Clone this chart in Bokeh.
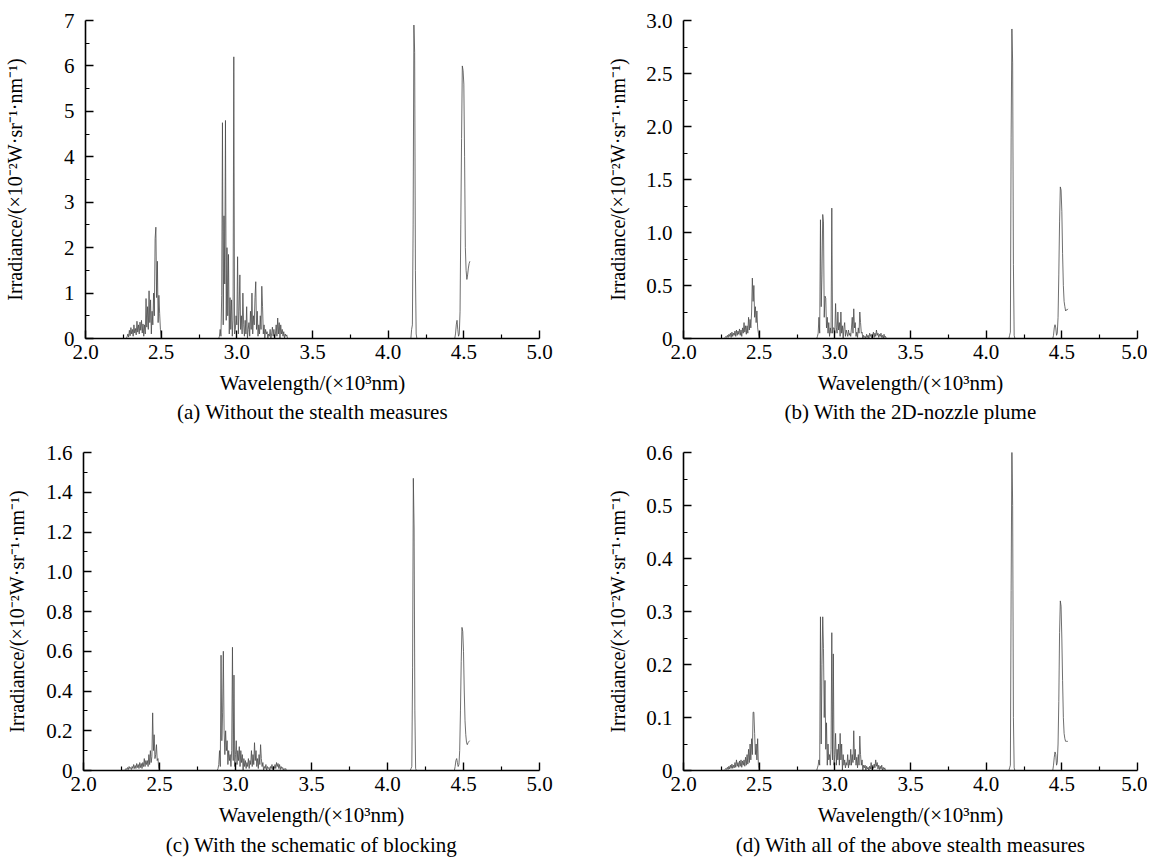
from bokeh.plotting import figure
from bokeh.models import Range1d, FixedTicker
from bokeh.layouts import column, row
from bokeh.embed import file_html
from bokeh.resources import INLINE

FONT = "Liberation Serif"

# ---- shared wavelength grids (x 10^3 nm) ----
B1_X = [2.270, 2.275, 2.280, 2.285, 2.290, 2.295, 2.300, 2.305, 2.310, 2.315,
        2.320, 2.325, 2.330, 2.335, 2.340, 2.345, 2.350, 2.355, 2.360, 2.365,
        2.370, 2.375, 2.380, 2.385, 2.390, 2.395, 2.400, 2.405, 2.410, 2.415,
        2.420, 2.425, 2.430, 2.435, 2.440, 2.445, 2.450, 2.455, 2.460, 2.465,
        2.470, 2.475, 2.480, 2.485, 2.490, 2.495, 2.500]
B2_X = [2.880, 2.885, 2.890, 2.895, 2.900, 2.905, 2.910, 2.915, 2.920, 2.925,
        2.930, 2.935, 2.940, 2.945, 2.950, 2.955, 2.960, 2.965, 2.970, 2.975,
        2.980, 2.985, 2.990, 2.995, 3.000, 3.005, 3.010, 3.015, 3.020, 3.025,
        3.030, 3.035, 3.040, 3.045, 3.050, 3.055, 3.060, 3.065, 3.070, 3.075,
        3.080, 3.085, 3.090, 3.095, 3.100, 3.105, 3.110, 3.115, 3.120, 3.125,
        3.130, 3.135, 3.140, 3.145, 3.150, 3.155, 3.160, 3.165, 3.170, 3.175,
        3.180, 3.185, 3.190, 3.195, 3.200, 3.205, 3.210, 3.215, 3.220, 3.225,
        3.230, 3.235, 3.240, 3.245, 3.250, 3.255, 3.260, 3.265, 3.270, 3.275,
        3.280, 3.285, 3.290, 3.295, 3.300, 3.305, 3.310, 3.315, 3.320, 3.325,
        3.330, 3.335, 3.340]
B3_X = [4.150, 4.155, 4.160, 4.165, 4.170, 4.175, 4.180, 4.185, 4.190]
B4_X = [4.440, 4.445, 4.450, 4.455, 4.460, 4.465, 4.470, 4.475, 4.480, 4.485,
        4.490, 4.495, 4.500, 4.505, 4.510, 4.515, 4.520, 4.525, 4.530, 4.535, 4.540]

# ---- (a) Without the stealth measures ----
A_B1 = [0, 0.04, 0.1, 0.03, 0.18, 0.06, 0.24, 0.1, 0.2, 0.05,
        0.3, 0.12, 0.22, 0.08, 0.38, 0.14, 0.3, 0.1, 0.36, 0.18,
        0.4, 0.12, 0.32, 0.05, 0.3, 0.1, 0.88, 0.25, 0.7, 0.2,
        1.05, 0.35, 0.85, 0.1, 0.6, 0.3, 1.0, 0.5, 2.2, 2.45,
        0.9, 1.7, 0.35, 0.95, 0.55, 0.2, 0.0]
A_B2 = [0, 0.05, 0.2, 0.05, 0.95, 4.75, 0.3, 2.7, 1.2, 4.8,
        0.4, 2.0, 0.5, 1.85, 0.1, 0.9, 0.2, 0.85, 0.05, 0.4,
        6.2, 0.1, 0.2, 0.5, 0.3, 1.8, 0.1, 0.6, 1.4, 0.2,
        0.5, 0.1, 1.0, 0.3, 0.05, 0.4, 0.1, 0.7, 0.0, 0.2,
        0.35, 0.05, 0.6, 0.2, 1.0, 0.1, 0.5, 0.3, 0.9, 1.25,
        0.2, 0.6, 0.05, 0.3, 0.1, 0.5, 0.2, 1.15, 0.7, 0.1,
        0.3, 0.0, 0.2, 0.1, 0.15, 0.0, 0.1, 0.05, 0.2, 0.0,
        0.1, 0.25, 0.05, 0.2, 0.0, 0.1, 0.3, 0.05, 0.45, 0.1,
        0.35, 0.0, 0.3, 0.1, 0.2, 0.05, 0.15, 0.0, 0.1, 0.05,
        0.08, 0.0, 0.0]
A_B3 = [0, 0.2, 0.3, 2.5, 6.9, 6.3, 1.5, 0.1, 0]
A_B4 = [0, 0.1, 0.3, 0.4, 0.2, 0.05, 0.1, 0.6, 2.5, 4.4,
        6.0, 5.9, 5.6, 4.0, 2.0, 1.5, 1.3, 1.4, 1.55, 1.65, 1.7]

# ---- (b) With the 2D-nozzle plume ----
B_B1 = [0, 0.01, 0.02, 0.01, 0.03, 0.01, 0.04, 0.02, 0.05, 0.01,
        0.06, 0.02, 0.05, 0.03, 0.07, 0.02, 0.08, 0.03, 0.07, 0.04,
        0.09, 0.03, 0.08, 0.02, 0.1, 0.05, 0.15, 0.06, 0.12, 0.04,
        0.12, 0.05, 0.2, 0.08, 0.18, 0.1, 0.25, 0.57, 0.35, 0.5,
        0.2, 0.3, 0.15, 0.26, 0.1, 0.05, 0.0]
B_B2 = [0, 0.02, 0.05, 0.2, 0.05, 1.12, 0.3, 0.6, 1.17, 1.1,
        0.2, 0.4, 0.38, 0.1, 0.2, 0.05, 0.15, 0.02, 0.1, 0.05,
        1.23, 0.05, 0.1, 0.1, 0.05, 0.33, 0.1, 0.05, 0.25, 0.08,
        0.15, 0.02, 0.25, 0.05, 0.12, 0.0, 0.1, 0.15, 0.02, 0.08,
        0.05, 0.02, 0.08, 0.03, 0.05, 0.02, 0.1, 0.2, 0.05, 0.28,
        0.1, 0.15, 0.02, 0.06, 0.01, 0.1, 0.05, 0.25, 0.15, 0.05,
        0.06, 0.0, 0.03, 0.01, 0.02, 0.0, 0.04, 0.01, 0.03, 0.0,
        0.05, 0.02, 0.04, 0.0, 0.03, 0.06, 0.01, 0.05, 0.02, 0.08,
        0.03, 0.05, 0.01, 0.04, 0.02, 0.05, 0.01, 0.03, 0.0, 0.04,
        0.01, 0.02, 0.0]
B_B3 = [0, 0.03, 0.06, 1.9, 2.92, 2.6, 0.7, 0.03, 0]
B_B4 = [0, 0.03, 0.1, 0.13, 0.1, 0.03, 0.05, 0.2, 0.6, 1.1,
        1.43, 1.4, 1.2, 0.8, 0.5, 0.35, 0.3, 0.26, 0.27, 0.27, 0.28]

# ---- (c) With the schematic of blocking ----
C_B1 = [0, 0.005, 0.01, 0.005, 0.015, 0.005, 0.02, 0.01, 0.015, 0.005,
        0.02, 0.01, 0.03, 0.01, 0.025, 0.01, 0.035, 0.015, 0.03, 0.01,
        0.04, 0.015, 0.035, 0.01, 0.04, 0.02, 0.06, 0.02, 0.05, 0.03,
        0.05, 0.02, 0.08, 0.03, 0.1, 0.04, 0.07, 0.29, 0.1, 0.18,
        0.06, 0.08, 0.13, 0.05, 0.06, 0.01, 0.0]
C_B2 = [0, 0.01, 0.03, 0.1, 0.02, 0.58, 0.15, 0.29, 0.6, 0.2,
        0.08, 0.2, 0.1, 0.15, 0.03, 0.1, 0.05, 0.08, 0.02, 0.1,
        0.62, 0.05, 0.48, 0.02, 0.08, 0.15, 0.03, 0.1, 0.05, 0.12,
        0.02, 0.1, 0.04, 0.08, 0.0, 0.06, 0.02, 0.05, 0.01, 0.04,
        0.02, 0.06, 0.01, 0.05, 0.03, 0.1, 0.02, 0.08, 0.03, 0.14,
        0.05, 0.1, 0.02, 0.06, 0.01, 0.08, 0.03, 0.13, 0.06, 0.02,
        0.04, 0.0, 0.02, 0.01, 0.03, 0.0, 0.02, 0.01, 0.015, 0.0,
        0.02, 0.01, 0.03, 0.005, 0.02, 0.01, 0.03, 0.01, 0.04, 0.02,
        0.035, 0.01, 0.03, 0.005, 0.02, 0.01, 0.015, 0.0, 0.01, 0.005,
        0.01, 0.0, 0.0]
C_B3 = [0, 0.01, 0.02, 0.52, 1.47, 1.22, 0.3, 0.01, 0]
C_B4 = [0, 0.02, 0.05, 0.06, 0.04, 0.02, 0.03, 0.1, 0.3, 0.55,
        0.72, 0.7, 0.6, 0.4, 0.25, 0.18, 0.14, 0.13, 0.14, 0.145, 0.15]

# ---- (d) With all of the above stealth measures ----
D_B1 = [0, 0.002, 0.004, 0.002, 0.006, 0.002, 0.008, 0.003, 0.01, 0.004,
        0.012, 0.004, 0.01, 0.005, 0.015, 0.006, 0.02, 0.008, 0.015, 0.006,
        0.018, 0.008, 0.02, 0.006, 0.018, 0.01, 0.02, 0.008, 0.025, 0.01,
        0.03, 0.012, 0.04, 0.015, 0.05, 0.02, 0.06, 0.03, 0.11, 0.11,
        0.07, 0.03, 0.05, 0.02, 0.06, 0.01, 0.0]
D_B2 = [0, 0.005, 0.01, 0.02, 0.01, 0.29, 0.05, 0.2, 0.29, 0.23,
        0.1, 0.17, 0.04, 0.09, 0.01, 0.05, 0.02, 0.03, 0.01, 0.04,
        0.26, 0.02, 0.22, 0.01, 0.03, 0.07, 0.01, 0.04, 0.02, 0.05,
        0.01, 0.07, 0.02, 0.05, 0.0, 0.03, 0.01, 0.02, 0.005, 0.015,
        0.01, 0.03, 0.005, 0.02, 0.01, 0.04, 0.01, 0.03, 0.015, 0.075,
        0.02, 0.04, 0.01, 0.025, 0.005, 0.03, 0.01, 0.065, 0.03, 0.01,
        0.02, 0.0, 0.01, 0.005, 0.01, 0.0, 0.008, 0.003, 0.006, 0.0,
        0.008, 0.003, 0.015, 0.002, 0.01, 0.004, 0.012, 0.005, 0.02, 0.008,
        0.015, 0.003, 0.01, 0.002, 0.008, 0.003, 0.01, 0.0, 0.006, 0.002,
        0.005, 0.0, 0.0]
D_B3 = [0, 0.005, 0.01, 0.34, 0.61, 0.5, 0.1, 0.005, 0]
D_B4 = [0, 0.01, 0.025, 0.035, 0.03, 0.01, 0.015, 0.05, 0.13, 0.26,
        0.32, 0.31, 0.25, 0.17, 0.1, 0.07, 0.06, 0.055, 0.055, 0.055, 0.055]

# ---- ticks ----
X_MAJOR = [2.0, 2.5, 3.0, 3.5, 4.0, 4.5, 5.0]
X_MINOR = [2.25, 2.75, 3.25, 3.75, 4.25, 4.75]
X_LABELS = ["2.0", "2.5", "3.0", "3.5", "4.0", "4.5", "5.0"]

A_YMAJOR = [0, 1, 2, 3, 4, 5, 6, 7]
A_YMINOR = [0.5, 1.5, 2.5, 3.5, 4.5, 5.5, 6.5]
A_YLABELS = ["0", "1", "2", "3", "4", "5", "6", "7"]
B_YMAJOR = [0, 0.5, 1.0, 1.5, 2.0, 2.5, 3.0]
B_YMINOR = [0.25, 0.75, 1.25, 1.75, 2.25, 2.75]
B_YLABELS = ["0", "0.5", "1.0", "1.5", "2.0", "2.5", "3.0"]
C_YMAJOR = [0, 0.2, 0.4, 0.6, 0.8, 1.0, 1.2, 1.4, 1.6]
C_YMINOR = [0.1, 0.3, 0.5, 0.7, 0.9, 1.1, 1.3, 1.5]
C_YLABELS = ["0", "0.2", "0.4", "0.6", "0.8", "1.0", "1.2", "1.4", "1.6"]
D_YMAJOR = [0, 0.1, 0.2, 0.3, 0.4, 0.5, 0.6]
D_YMINOR = [0.05, 0.15, 0.25, 0.35, 0.45, 0.55]
D_YLABELS = ["0", "0.1", "0.2", "0.3", "0.4", "0.5", "0.6"]

XLABEL = "Wavelength/(\u00d710\u00b3nm)"
YLABEL = "Irradiance/(\u00d710\u207b\u00b2W\u00b7sr\u207b\u00b9\u00b7nm\u207b\u00b9)"

CAPTIONS = ["(a) Without the stealth measures",
            "(b) With the 2D-nozzle plume",
            "(c) With the schematic of blocking",
            "(d) With all of the above stealth measures"]


def make_panel(bands, ymax, ymajor, yminor, ylabels, caption, width, height,
               left, right, top, bottom, ylabel_standoff, title_standoff):
    p = figure(width=width, height=height, output_backend="svg",
               toolbar_location=None,
               x_range=Range1d(2.0, 5.0), y_range=Range1d(0, ymax),
               min_border_left=left, min_border_right=right,
               min_border_top=top, min_border_bottom=bottom,
               title=caption, title_location="below")
    p.outline_line_color = None
    p.xgrid.visible = False
    p.ygrid.visible = False
    p.background_fill_color = "white"
    p.border_fill_color = "white"

    p.title.align = "center"
    p.title.text_font = FONT
    p.title.text_font_size = "21px"
    p.title.text_font_style = "normal"
    p.title.text_color = "black"
    p.title.standoff = title_standoff

    for ax in (p.xaxis[0], p.yaxis[0]):
        ax.axis_line_color = "black"
        ax.axis_line_width = 1.6
        ax.major_tick_line_color = "black"
        ax.major_tick_line_width = 1.4
        ax.minor_tick_line_color = "black"
        ax.minor_tick_line_width = 1.2
        ax.major_tick_in = 8
        ax.major_tick_out = 0
        ax.minor_tick_in = 4
        ax.minor_tick_out = 0
        ax.major_label_text_font = FONT
        ax.major_label_text_font_size = "21px"
        ax.major_label_text_color = "black"
        ax.axis_label_text_font = FONT
        ax.axis_label_text_font_style = "normal"
        ax.axis_label_text_color = "black"

    xa = p.xaxis[0]
    xa.ticker = FixedTicker(ticks=X_MAJOR, minor_ticks=X_MINOR)
    xa.major_label_overrides = {t: s for t, s in zip(X_MAJOR, X_LABELS)}
    xa.axis_label = XLABEL
    xa.axis_label_text_font_size = "21px"
    xa.major_label_standoff = 6
    xa.axis_label_standoff = 9

    ya = p.yaxis[0]
    ya.ticker = FixedTicker(ticks=ymajor, minor_ticks=yminor)
    ya.major_label_overrides = {t: s for t, s in zip(ymajor, ylabels)}
    ya.axis_label = YLABEL
    ya.axis_label_text_font_size = "20px"
    ya.major_label_standoff = 11
    ya.axis_label_standoff = ylabel_standoff

    for bx, by in bands:
        p.line(bx, by, line_color="#4a4a4a", line_width=0.8)
    return p


pa = make_panel([(B1_X, A_B1), (B2_X, A_B2), (B3_X, A_B3), (B4_X, A_B4)],
                7, A_YMAJOR, A_YMINOR, A_YLABELS, CAPTIONS[0],
                580, 440, 83, 41, 20, 102, 35, 0)
pb = make_panel([(B1_X, B_B1), (B2_X, B_B2), (B3_X, B_B3), (B4_X, B_B4)],
                3.0, B_YMAJOR, B_YMINOR, B_YLABELS, CAPTIONS[1],
                567, 440, 103, 10, 20, 102, 14, 0)
pc = make_panel([(B1_X, C_B1), (B2_X, C_B2), (B3_X, C_B3), (B4_X, C_B4)],
                1.6, C_YMAJOR, C_YMINOR, C_YLABELS, CAPTIONS[2],
                580, 425, 83, 41, 12, 95, 15, 2)
pd = make_panel([(B1_X, D_B1), (B2_X, D_B2), (B3_X, D_B3), (B4_X, D_B4)],
                0.6, D_YMAJOR, D_YMINOR, D_YLABELS, CAPTIONS[3],
                567, 425, 103, 10, 12, 95, 14, 2)

layout = column(row(pa, pb), row(pc, pd))

open("out.html", "w").write(file_html(layout, INLINE))
